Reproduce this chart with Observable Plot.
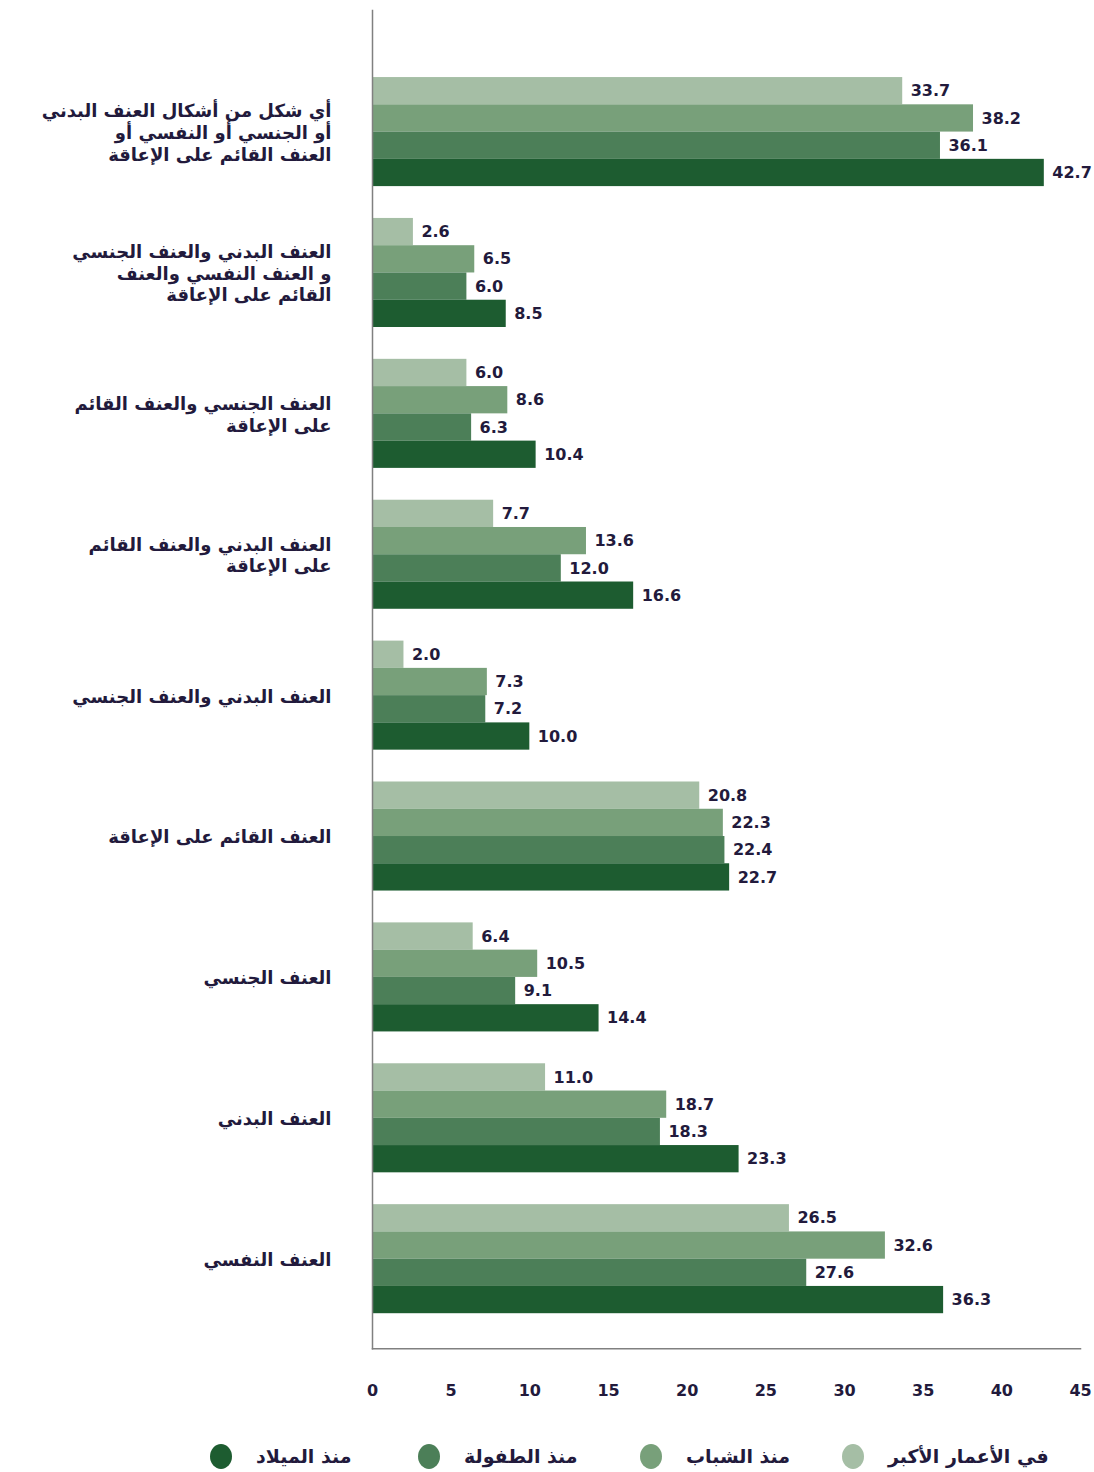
<!DOCTYPE html>
<html>
<head>
<meta charset="utf-8">
<script src="https://cdn.jsdelivr.net/npm/d3@7"></script>
<script src="https://cdn.jsdelivr.net/npm/@observablehq/plot@0.6"></script>
<style>
  html, body { margin: 0; padding: 0; background: #ffffff; }
  #chart { width: 1094px; }
  .legend { display: grid; grid-template-columns: 210px 208px 222px 202px 200px; height: 52px; margin-top: 10px; align-items: center;
            font-family: "DejaVu Sans", sans-serif; font-weight: bold; font-size: 19px; color: #221a3c; }
  .legend .item { display: flex; align-items: center; white-space: nowrap; }
  .legend .dot { width: 22px; height: 25px; border-radius: 50%; margin-right: 24px; flex: none; }
</style>
</head>
<body>
<div id="chart"></div>
<script>
const groups = [
  "أي شكل من أشكال العنف البدني\nأو الجنسي أو النفسي أو\nالعنف القائم على الإعاقة",
  "العنف البدني والعنف الجنسي\nو العنف النفسي والعنف\nالقائم على الإعاقة",
  "العنف الجنسي والعنف القائم\nعلى الإعاقة",
  "العنف البدني والعنف القائم\nعلى الإعاقة",
  "العنف البدني والعنف الجنسي",
  "العنف القائم على الإعاقة",
  "العنف الجنسي",
  "العنف البدني",
  "العنف النفسي"
];
const series = ["في الأعمار الأكبر", "منذ الشباب", "منذ الطفولة", "منذ الميلاد"];
const colors = ["#a5bea5", "#78a07a", "#4c7f58", "#1d5c30"];
const olderAges      = [33.7, 2.6, 6.0, 7.7, 2.0, 20.8, 6.4, 11.0, 26.5];
const sinceYouth     = [38.2, 6.5, 8.6, 13.6, 7.3, 22.3, 10.5, 18.7, 32.6];
const sinceChildhood = [36.1, 6.0, 6.3, 12.0, 7.2, 22.4, 9.1, 18.3, 27.6];
const sinceBirth     = [42.7, 8.5, 10.4, 16.6, 10.0, 22.7, 14.4, 23.3, 36.3];
const xTicks = [0, 5, 10, 15, 20, 25, 30, 35, 40, 45];
const legendOrder = [3, 2, 1, 0];

const seriesValues = [olderAges, sinceYouth, sinceChildhood, sinceBirth];
const data = groups.flatMap((g, i) => series.map((s, j) => ({group: g, series: s, value: seriesValues[j][i]})));

const ink = "#221a3c";
const font = "DejaVu Sans, sans-serif";

const chart = Plot.plot({
  width: 1094,
  height: 1420,
  marginLeft: 372,
  marginRight: 14,
  marginTop: 10,
  marginBottom: 71,
  style: {fontFamily: font, color: ink, background: "#ffffff"},
  x: {domain: [0, 45], axis: null},
  y: {domain: series, axis: null, paddingInner: 0, paddingOuter: 0, round: false},
  fy: {domain: groups, range: [10, 1349], paddingInner: 0.226, paddingOuter: 0.365, align: 0.652, round: false, label: null, axis: null},
  color: {domain: series, range: colors},
  marks: [
    Plot.barX(data, {x: "value", y: "series", fy: "group", fill: "series"}),
    Plot.text(data, {x: "value", y: "series", fy: "group", text: d => d.value.toFixed(1),
      textAnchor: "start", dx: 8, fontSize: 16, fontWeight: "bold", fill: ink}),
    Plot.axisFy({anchor: "left", tickSize: 0, tickPadding: 41, fontSize: 18, fontWeight: "bold",
      lineHeight: 1.2, label: null, fill: ink}),
    Plot.frame({anchor: "left", facet: "super", stroke: "#808080", strokeWidth: 1.5, insetTop: -67, insetBottom: -35}),
    Plot.frame({anchor: "bottom", facet: "super", stroke: "#808080", strokeWidth: 1.5, insetTop: -67, insetBottom: -35}),
    Plot.axisX({anchor: "bottom", ticks: xTicks, tickSize: 0, tickPadding: 71, fontSize: 16,
      fontWeight: "bold", label: null, fill: ink})
  ]
});
document.getElementById("chart").appendChild(chart);

const legend = document.createElement("div");
legend.className = "legend";
legend.appendChild(document.createElement("div"));
legendOrder.forEach(k => {
  const item = document.createElement("div");
  item.className = "item";
  const dot = document.createElement("span");
  dot.className = "dot";
  dot.style.background = colors[k];
  const label = document.createElement("span");
  label.textContent = series[k];
  item.appendChild(dot);
  item.appendChild(label);
  legend.appendChild(item);
});
document.getElementById("chart").appendChild(legend);
</script>
</body>
</html>
